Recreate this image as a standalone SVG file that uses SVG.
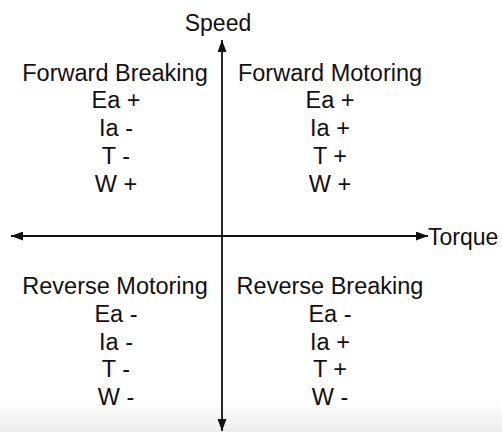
<svg xmlns="http://www.w3.org/2000/svg" width="502" height="432" viewBox="0 0 502 432">
<style>
text{font-family:"Liberation Sans",Arial,sans-serif;font-size:23.5px;fill:#111;}
.c{text-anchor:middle;}
.lab{font-size:23px;}
.ax{stroke:#111;stroke-width:1.8;fill:none;}
</style>
<defs>
<linearGradient id="bg" x1="0" y1="0" x2="0" y2="1">
<stop offset="0" stop-color="#ffffff"/>
<stop offset="1" stop-color="#ededed"/>
</linearGradient>
<marker id="ah" viewBox="0 0 12 9" refX="12" refY="4.5" markerWidth="12" markerHeight="9" markerUnits="userSpaceOnUse" orient="auto">
<path d="M0,0 L12,4.5 L0,9 Z" fill="#111"/>
</marker>
</defs>
<rect x="0" y="0" width="502" height="432" fill="#fff"/>
<rect x="0" y="400" width="502" height="32" fill="url(#bg)"/>
<g id="axes">
<line class="ax" x1="222" y1="236" x2="222" y2="40" marker-end="url(#ah)"/>
<line class="ax" x1="222" y1="236" x2="222" y2="431" marker-end="url(#ah)"/>
<line class="ax" x1="222" y1="236" x2="11" y2="236" marker-end="url(#ah)"/>
<line class="ax" x1="222" y1="236" x2="428" y2="236" marker-end="url(#ah)"/>
<text x="218" y="31" class="c lab">Speed</text>
<text x="428" y="245" class="lab">Torque</text>
</g>
<g id="forward-breaking">
<text x="115" y="81" class="c">Forward Breaking</text>
<text x="116" y="108" class="c">Ea +</text>
<text x="116" y="136" class="c">Ia -</text>
<text x="116" y="164" class="c">T -</text>
<text x="116" y="192" class="c">W +</text>
</g>
<g id="forward-motoring">
<text x="330" y="81" class="c">Forward Motoring</text>
<text x="330" y="108" class="c">Ea +</text>
<text x="330" y="136" class="c">Ia +</text>
<text x="330" y="164" class="c">T +</text>
<text x="330" y="192" class="c">W +</text>
</g>
<g id="reverse-motoring">
<text x="115" y="294" class="c">Reverse Motoring</text>
<text x="116" y="322" class="c">Ea -</text>
<text x="116" y="350" class="c">Ia -</text>
<text x="116" y="377" class="c">T -</text>
<text x="116" y="405" class="c">W -</text>
</g>
<g id="reverse-breaking">
<text x="330" y="294" class="c">Reverse Breaking</text>
<text x="330" y="322" class="c">Ea -</text>
<text x="330" y="350" class="c">Ia +</text>
<text x="330" y="377" class="c">T +</text>
<text x="330" y="405" class="c">W -</text>
</g>
</svg>
